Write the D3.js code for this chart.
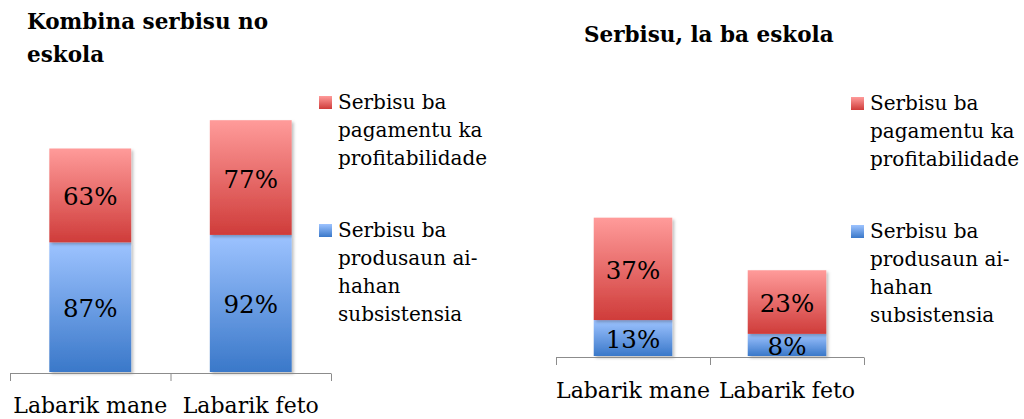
<!DOCTYPE html>
<html>
<head>
<meta charset="utf-8">
<script src="https://cdn.jsdelivr.net/npm/d3@7"></script>
<style>
  body { margin: 0; background: #fff; }
  text { font-family: "DejaVu Serif", serif; fill: #000; }
  .title { font-weight: bold; }
</style>
</head>
<body>
<div id="chart"></div>
<script>
// data
const categories = ["Labarik mane", "Labarik feto"];
const combinedSubsistence = [87, 92];   // Kombina serbisu no eskola
const combinedPaid = [63, 77];
const workOnlySubsistence = [13, 8];    // Serbisu, la ba eskola
const workOnlyPaid = [37, 23];
const legendPaid = ["Serbisu ba", "pagamentu ka", "profitabilidade"];
const legendSubsistence = ["Serbisu ba", "produsaun ai-", "hahan", "subsistensia"];

const W = 1024, H = 419;
const svg = d3.select("#chart").append("svg")
    .attr("width", W)
    .attr("height", H);

// gradients + soft shadow like the office chart
const defs = svg.append("defs");
function grad(id, top, bottom) {
    const g = defs.append("linearGradient").attr("id", id)
        .attr("x1", 0).attr("y1", 0).attr("x2", 0).attr("y2", 1);
    g.append("stop").attr("offset", "0%").attr("stop-color", top);
    g.append("stop").attr("offset", "100%").attr("stop-color", bottom);
}
grad("redGrad", "#ff9b9a", "#cf3c3a");
grad("blueGrad", "#9dc3ff", "#3a78c9");
defs.append("filter").attr("id", "shadow")
    .attr("x", "-10%").attr("y", "-10%").attr("width", "130%").attr("height", "130%")
    .append("feDropShadow")
    .attr("dx", 2).attr("dy", 2).attr("stdDeviation", 1.5)
    .attr("flood-color", "#000").attr("flood-opacity", 0.25);

function drawChart(opts) {
    const g = svg.append("g");
    const x = d3.scaleBand().domain(categories).range(opts.xRange);
    const y = d3.scaleLinear().domain(opts.yDomain).range(opts.yRange);
    const barW = x.bandwidth() * 0.51;
    const rows = categories.map((c, i) => ({cat: c, a: opts.blue[i], b: opts.red[i]}));

    // title
    const t = g.append("text")
        .attr("class", "title")
        .attr("x", opts.titleX)
        .attr("y", opts.titleY)
        .attr("font-size", "21.5px");
    opts.title.forEach((line, i) => {
        t.append("tspan").attr("x", opts.titleX).attr("dy", i ? 33 : 0).text(line);
    });

    const bars = g.selectAll(".bar").data(rows).enter().append("g").attr("class", "bar");
    bars.append("rect")
        .attr("x", d => x(d.cat) + (x.bandwidth() - barW) / 2)
        .attr("y", d => y(d.a))
        .attr("width", barW)
        .attr("height", d => y(0) - y(d.a))
        .attr("fill", "url(#blueGrad)")
        .attr("filter", "url(#shadow)");
    bars.append("rect")
        .attr("x", d => x(d.cat) + (x.bandwidth() - barW) / 2)
        .attr("y", d => y(d.a + d.b))
        .attr("width", barW)
        .attr("height", d => y(d.a) - y(d.a + d.b))
        .attr("fill", "url(#redGrad)")
        .attr("filter", "url(#shadow)");

    bars.append("text")
        .attr("x", d => x(d.cat) + x.bandwidth() / 2)
        .attr("y", d => (y(0) + y(d.a)) / 2 + 10)
        .attr("text-anchor", "middle")
        .attr("font-size", "24.5px")
        .text(d => d.a + "%");
    bars.append("text")
        .attr("x", d => x(d.cat) + x.bandwidth() / 2)
        .attr("y", d => (y(d.a) + y(d.a + d.b)) / 2 + 10)
        .attr("text-anchor", "middle")
        .attr("font-size", "24.5px")
        .text(d => d.b + "%");

    // category axis with ticks on band edges
    const axis = g.append("g").attr("stroke", "#8c8c8c").attr("stroke-width", 1);
    axis.append("line")
        .attr("x1", opts.xRange[0]).attr("x2", opts.xRange[1])
        .attr("y1", y(0) + 1.5).attr("y2", y(0) + 1.5);
    const edges = categories.map(c => x(c)).concat([x.range()[1]]);
    axis.selectAll(".tick").data(edges).enter().append("line")
        .attr("x1", d => d + 0.5).attr("x2", d => d + 0.5)
        .attr("y1", y(0) + 1.5).attr("y2", y(0) + 9);
    g.selectAll(".cat").data(categories).enter().append("text")
        .attr("x", d => x(d) + x.bandwidth() / 2)
        .attr("y", opts.catY)
        .attr("text-anchor", "middle")
        .attr("font-size", "22px")
        .text(d => d);

    // legend
    const legend = [
        {lines: legendPaid, fill: "url(#redGrad)", y: opts.legendY[0]},
        {lines: legendSubsistence, fill: "url(#blueGrad)", y: opts.legendY[1]}
    ];
    const li = g.selectAll(".legend").data(legend).enter().append("g");
    li.append("rect")
        .attr("x", opts.legendX)
        .attr("y", d => d.y - 13)
        .attr("width", 13).attr("height", 13)
        .attr("fill", d => d.fill);
    li.append("text")
        .attr("font-size", "20px")
        .attr("y", d => d.y)
        .selectAll("tspan").data(d => d.lines).enter().append("tspan")
        .attr("x", opts.legendX + 19)
        .attr("dy", (d, i) => i ? 28 : 0)
        .text(d => d);
}

drawChart({
    title: ["Kombina serbisu no", "eskola"], titleX: 27, titleY: 29,
    xRange: [10, 331], yDomain: [0, 200], yRange: [372, 74],
    blue: combinedSubsistence, red: combinedPaid,
    catY: 413, legendX: 319, legendY: [109, 237]
});
drawChart({
    title: ["Serbisu, la ba eskola"], titleX: 584, titleY: 42,
    xRange: [556, 864], yDomain: [0, 60], yRange: [356, 190],
    blue: workOnlySubsistence, red: workOnlyPaid,
    catY: 398, legendX: 851, legendY: [110, 238]
});
</script>
</body>
</html>
